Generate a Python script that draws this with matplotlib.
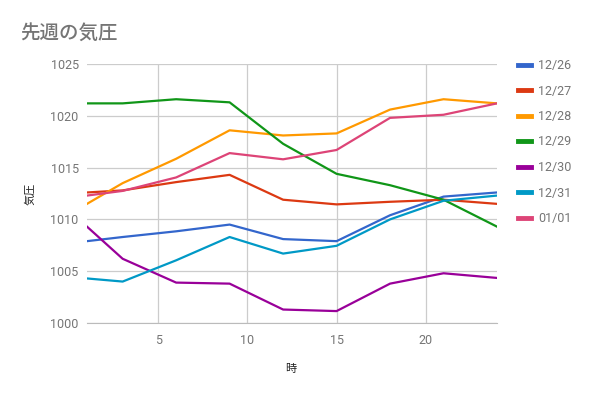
import matplotlib
matplotlib.use("Agg")
import matplotlib.pyplot as plt

plt.rcParams['font.family'] = ['Roboto', 'Noto Sans CJK JP', 'DejaVu Sans']

# data
hours = [1, 3, 6, 9, 12, 15, 18, 21, 24]
labels = ['12/26', '12/27', '12/28', '12/29', '12/30', '12/31', '01/01']
d1226 = [1007.9, 1008.3, 1008.85, 1009.5, 1008.1, 1007.9, 1010.4, 1012.2, 1012.6]
d1227 = [1012.6, 1012.8, 1013.6, 1014.3, 1011.9, 1011.45, 1011.7, 1011.9, 1011.5]
d1228 = [1011.5, 1013.5, 1015.85, 1018.6, 1018.1, 1018.3, 1020.6, 1021.6, 1021.2]
d1229 = [1021.2, 1021.2, 1021.6, 1021.3, 1017.3, 1014.4, 1013.3, 1011.9, 1009.3]
d1230 = [1009.3, 1006.2, 1003.9, 1003.8, 1001.3, 1001.15, 1003.8, 1004.8, 1004.35]
d1231 = [1004.3, 1004.0, 1006.05, 1008.3, 1006.7, 1007.45, 1010.0, 1011.8, 1012.3]
d0101 = [1012.3, 1012.75, 1014.05, 1016.4, 1015.8, 1016.7, 1019.8, 1020.1, 1021.2]
series = [d1226, d1227, d1228, d1229, d1230, d1231, d0101]
colors = ['#3366cc', '#dc3912', '#ff9900', '#109618', '#990099', '#0099c6', '#dd4477']

fig = plt.figure(figsize=(5.91, 3.97), dpi=100)
# plot area in pixels: x 87..497, y 64..323
ax = fig.add_axes([87/591, 1 - 323/397, 410/591, 259/397])

lines = []
for vals, lab, c in zip(series, labels, colors):
    ln, = ax.plot(hours, vals, color=c, lw=1.6, label=lab, solid_joinstyle='round')
    lines.append(ln)

ax.set_xlim(1, 24)
ax.set_ylim(1000, 1025)
ax.set_xticks([5, 10, 15, 20])
ax.set_yticks([1000, 1005, 1010, 1015, 1020, 1025])
ax.grid(True, color='#cccccc', lw=0.9)
ax.set_axisbelow(True)
for s in ['top', 'right', 'left']:
    ax.spines[s].set_visible(False)
ax.spines['bottom'].set_color('#bbbbbb')
ax.tick_params(length=0, labelsize=9, colors='#757575', pad=6)
ax.tick_params(axis='x', pad=8)

fig.text(20/591, 1 - 33/397, '先週の気圧', fontsize=14, color='#757575',
         fontweight='medium', va='center', ha='left')
fig.text(30/591, 1 - 194/397, '気圧', fontsize=8, color='#222222',
         rotation=90, va='center', ha='center')
fig.text(291/591, 1 - 369/397, '時', fontsize=8, color='#222222',
         va='center', ha='center')

leg = fig.legend(handles=lines, loc='upper left', bbox_to_anchor=(518/591, 1 - 59/397),
                 frameon=False, fontsize=9, labelspacing=1.0, handlelength=1.0,
                 handletextpad=0.6, borderaxespad=0, borderpad=0)
for t in leg.get_texts():
    t.set_color('#757575')
for h in leg.legend_handles:
    h.set_linewidth(3.5)

fig.savefig('out.png', dpi=100)
